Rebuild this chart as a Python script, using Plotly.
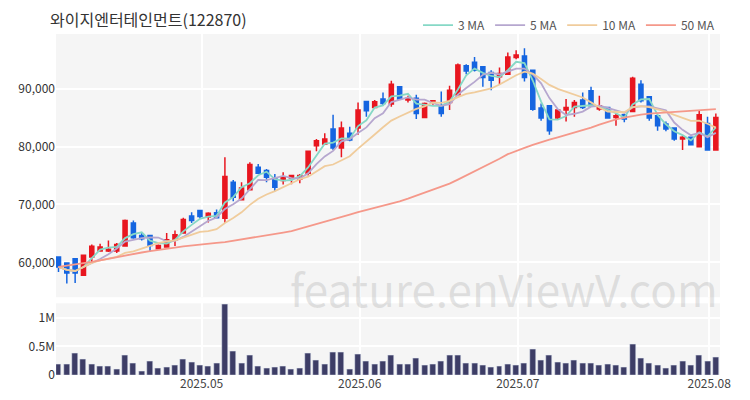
import pandas as pd
import plotly.graph_objects as go
from plotly.subplots import make_subplots

dates = pd.bdate_range("2025-04-07", "2025-08-01")
holidays = pd.to_datetime(["2025-05-01", "2025-05-05", "2025-05-06", "2025-06-03", "2025-06-06"])
dates = [d for d in dates if d not in holidays]

opens = [60920,59890,60630,57760,60920,61960,61960,61960,62820,66780,64660,64660,62360,62640,63910,65060,67990,68970,67820,68560,
         67640,73850,70800,72530,76440,75860,74600,74130,74600,74420,75400,80170,80460,83050,79770,82300,83220,87820,86780,88220,
         87360,90340,88050,88390,85060,87640,87070,87640,88970,93970,94600,93800,92820,92070,92530,95400,95690,93220,86670,87070,
         84940,86320,86780,88050,89660,86500,86780,85060,85520,86090,90800,88620,85340,83910,83220,81320,81610,80000,84020,79430]
closes = [59200,58160,58160,61210,62760,62640,62240,63100,67240,64250,64080,62930,62930,63910,64770,67410,67240,67930,68500,67700,
          74830,71260,72870,76900,75400,74710,72990,74710,75000,75000,79200,81030,81320,79770,83220,81150,86320,86210,87760,87470,
          90800,88220,88390,85750,87470,87930,85750,89770,94140,93100,93220,91950,91490,92640,95520,95860,91950,86490,84940,82760,
          86320,86780,87640,86780,87070,87070,84940,85340,84770,91830,87930,84940,83620,83050,81320,81610,80340,85520,79430,85060]
highs = [61000,59890,60630,61210,63100,63220,63790,63330,67410,67240,65060,64660,63100,65060,65520,67700,68680,69080,68680,69140,
         78160,74250,73850,77300,77010,76150,75290,75580,75120,75290,79310,81320,82300,85520,84370,83450,87640,87930,88050,89370,
         91380,90340,88790,88970,87640,87930,89540,90520,94370,94250,95520,93800,93220,93680,96260,96660,97010,93220,87470,87070,
         86500,88220,88050,89370,90340,88790,86780,85750,85520,92070,91490,88620,85340,84370,83220,81900,81610,86320,85170,85750]
lows = [58330,56320,56440,57760,59890,61960,61790,61610,62820,64080,63790,61790,62360,62640,62820,64940,66780,67530,66890,67700,
        66780,70570,70800,72530,75290,73850,72300,73450,73510,73680,75000,79200,80340,79430,78160,80920,82070,85170,86780,87070,
        86900,88050,87640,84770,85060,87240,85170,86320,88970,92530,92990,90340,89770,90690,92410,95110,91260,86210,84480,82070,
        84770,84370,85170,86500,87070,86210,84940,83620,84200,86090,87640,84480,82760,82650,81030,79430,80340,80000,79310,79310]
volumes = [0.19,0.19,0.37,0.27,0.19,0.15,0.15,0.10,0.34,0.21,0.06,0.23,0.12,0.14,0.16,0.27,0.22,0.16,0.15,0.20,
           1.24,0.42,0.20,0.35,0.15,0.12,0.14,0.15,0.10,0.11,0.38,0.25,0.18,0.40,0.40,0.10,0.36,0.24,0.18,0.23,
           0.34,0.19,0.19,0.29,0.16,0.19,0.24,0.35,0.35,0.21,0.21,0.16,0.13,0.15,0.19,0.16,0.20,0.45,0.25,0.34,
           0.22,0.20,0.26,0.20,0.20,0.17,0.18,0.17,0.13,0.53,0.29,0.20,0.17,0.12,0.16,0.23,0.16,0.35,0.23,0.30]
ma50 = [59200,59400,59600,59800,60060,60350,60640,60920,61210,61450,61700,61940,62180,62370,62560,62750,62930,63070,63220,63360,
        63510,63730,63940,64160,64370,64630,64890,65140,65400,65790,66170,66560,66950,67380,67820,68250,68680,69040,69400,69760,
        70120,70550,71000,71500,72000,72500,73000,73600,74300,75000,75800,76500,77200,77900,78700,79300,79800,80300,80800,81200,
        81600,82000,82500,82900,83300,83800,84300,84700,85000,85300,85550,85700,85800,85900,86000,86100,86200,86300,86400,86500]
month_labels = ["2025.05", "2025.06", "2025.07", "2025.08"]

x = list(range(len(dates)))
cs = pd.Series(closes)
ma3 = cs.rolling(3, min_periods=1).mean()
ma5 = cs.rolling(5, min_periods=1).mean()
ma10 = cs.rolling(10, min_periods=1).mean()

tickvals = []
seen = set()
for i, d in enumerate(dates):
    key = (d.year, d.month)
    if key not in seen and i > 0:
        tickvals.append(i - 0.8)
    seen.add(key)

fig = make_subplots(rows=2, cols=1, shared_xaxes=True, row_heights=[0.786, 0.214], vertical_spacing=0.018)
fig.add_trace(go.Candlestick(x=x, open=opens, high=highs, low=lows, close=closes,
                             increasing=dict(line=dict(color="#e8161f", width=1.5), fillcolor="#e8161f"),
                             decreasing=dict(line=dict(color="#1565e0", width=1.5), fillcolor="#1565e0"),
                             whiskerwidth=0, showlegend=False), row=1, col=1)
for name, s, c in [("3 MA", ma3, "#86d8c6"), ("5 MA", ma5, "#b6a7cf"), ("10 MA", ma10, "#f0cc9c"), ("50 MA", ma50, "#f5988a")]:
    fig.add_trace(go.Scatter(x=x, y=list(s), mode="lines", name=name, line=dict(color=c, width=1.8)), row=1, col=1)
fig.add_trace(go.Bar(x=x, y=[v * 1e6 for v in volumes], marker_color="#3d3d66", showlegend=False, width=0.72), row=2, col=1)

fig.update_layout(
    width=750, height=400, margin=dict(l=48, r=38, t=26, b=33, autoexpand=False),
    paper_bgcolor="white", plot_bgcolor="#f5f5f5",
    font=dict(family="Noto Sans CJK KR, Noto Sans", size=12, color="#333"),
    title=dict(text="와이지엔터테인먼트(122870)", x=0.056, xanchor="left", y=0.97, yanchor="middle", font=dict(size=16, color="#333")),
    legend=dict(orientation="h", x=1, xanchor="right", y=1.026, yanchor="middle", font=dict(size=12, color="#555"), bgcolor="rgba(0,0,0,0)"),
    showlegend=True, bargap=0,
    annotations=[dict(text="feature.enViewV.com", x=1.0, xanchor="right", y=0.255, yanchor="middle", xref="paper", yref="paper",
                      showarrow=False, font=dict(size=44, color="rgba(160,160,160,0.28)"))],
)
fig.update_xaxes(range=[-0.3, 79.5], tickvals=tickvals, ticktext=month_labels, showgrid=True, gridcolor="white", gridwidth=1.5,
                 rangeslider_visible=False, zeroline=False, tickfont=dict(size=12, color="#444"))
fig.update_xaxes(showticklabels=False, row=1, col=1)
fig.update_yaxes(range=[53970, 99480], tickvals=[60000, 70000, 80000, 90000], tickformat=",", gridcolor="white", gridwidth=1.5,
                 zeroline=False, row=1, col=1)
fig.update_yaxes(range=[0, 1.25e6], tickvals=[0, 5e5, 1e6], ticktext=["0", "0.5M", "1M"], gridcolor="white", gridwidth=1.5,
                 zeroline=False, row=2, col=1)
fig.write_html("out.html")
